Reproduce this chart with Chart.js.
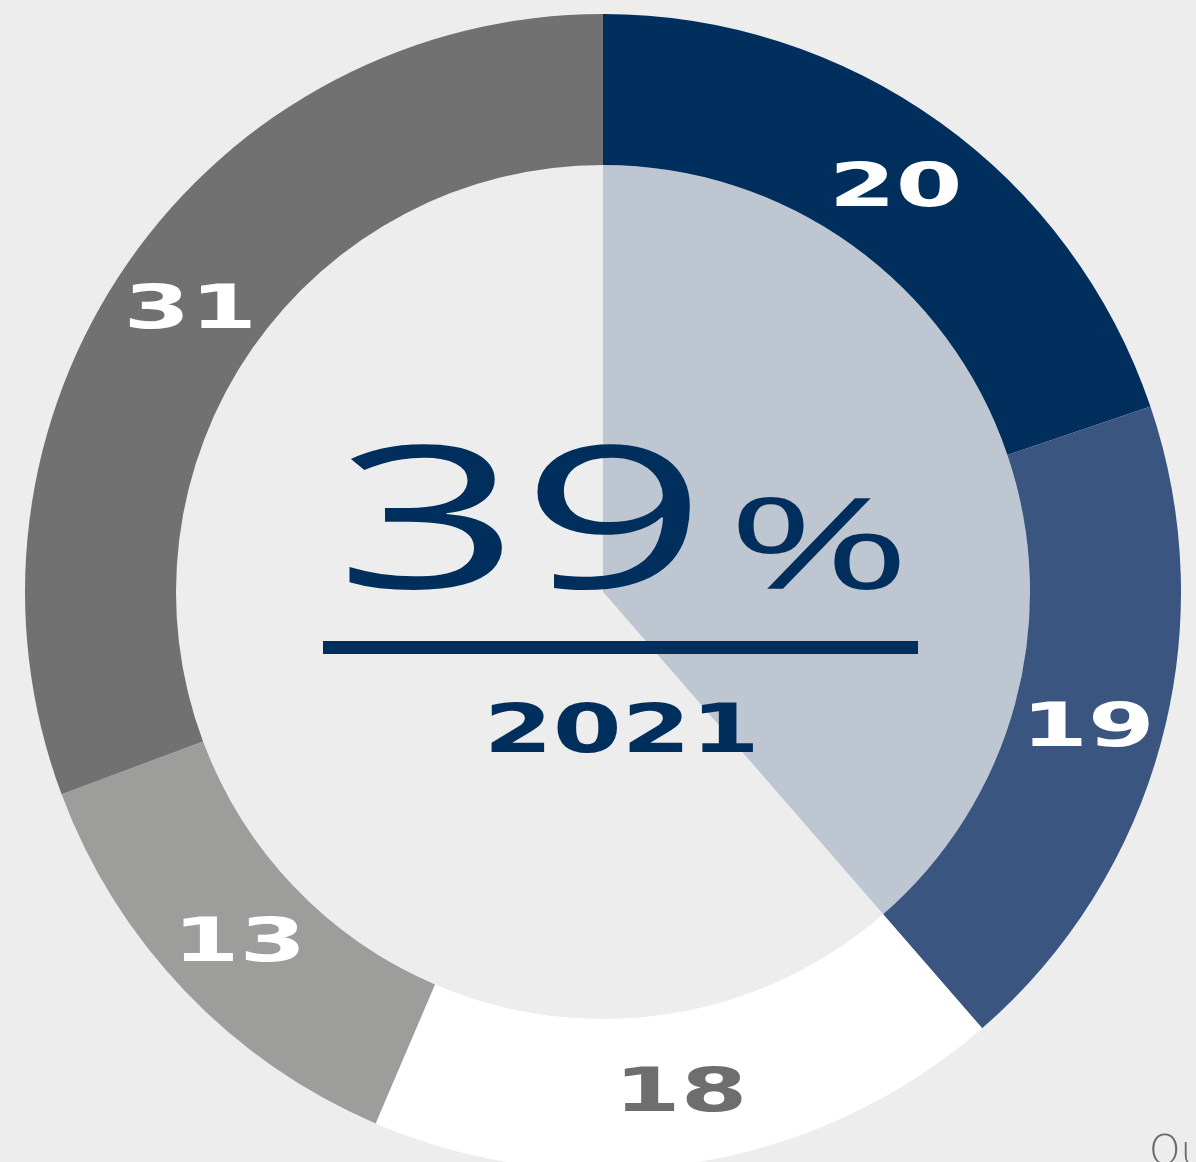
<!DOCTYPE html>
<html>
<head>
<meta charset="utf-8">
<script src="https://cdn.jsdelivr.net/npm/chart.js@4/dist/chart.umd.min.js"></script>
<style>
  html, body { margin: 0; padding: 0; background: #ededed; width: 1196px; height: 1162px; overflow: hidden; position: relative; }
  #c { position: absolute; left: 0; top: 0; }
  #src { position: absolute; left: 1149px; top: 1127px; font-family: "DejaVu Sans"; font-weight: 200; font-size: 40px; color: #6a6a6a; white-space: nowrap; }
</style>
</head>
<body>
<canvas id="c" width="1196" height="1184"></canvas>
<div id="src">Quelle</div>
<script>
// ---- data ----
const categories = ['A', 'B', 'C', 'D', 'E'];
const values = [20, 19, 18, 13, 31];
const segmentColors = ['#002f5d', '#3a5580', '#ffffff', '#9d9d9c', '#717171'];
const labelColors = ['#ffffff', '#ffffff', '#6e6e6e', '#ffffff', '#ffffff'];
const highlightCount = 2;           // first two segments form the headline share
const headlineValue = '39';
const headlineUnit = '%';
const yearLabel = '2021';

const total = values.reduce((a, b) => a + b, 0);
const highlighted = values.slice(0, highlightCount).reduce((a, b) => a + b, 0);
const innerValues = [highlighted, total - highlighted];

const NAVY = '#002f5d';

function fitText(ctx, text, fontFn, x0, x1, yTop, yBottom, color) {
  ctx.save();
  ctx.font = fontFn(100);
  let m = ctx.measureText(text);
  const h = m.actualBoundingBoxAscent + m.actualBoundingBoxDescent;
  const size = 100 * (yBottom - yTop) / h;
  ctx.font = fontFn(size);
  m = ctx.measureText(text);
  const w = m.actualBoundingBoxLeft + m.actualBoundingBoxRight;
  const sx = (x1 - x0) / w;
  ctx.translate(x0, yBottom);
  ctx.scale(sx, 1);
  ctx.textAlign = 'left';
  ctx.textBaseline = 'alphabetic';
  ctx.fillStyle = color;
  ctx.fillText(text, m.actualBoundingBoxLeft, -m.actualBoundingBoxDescent);
  ctx.restore();
}

const boldFont = s => `bold ${s}px "DejaVu Sans"`;
const lightFont = s => `400 ${s}px "Open Sans", "DejaVu Sans"`;

const overlayPlugin = {
  id: 'overlay',
  afterDatasetsDraw(chart) {
    const ctx = chart.ctx;
    // segment labels
    const meta = chart.getDatasetMeta(0);
    ctx.save();
    ctx.font = boldFont(100);
    let m = ctx.measureText('20');
    const capH = m.actualBoundingBoxAscent;
    const size = 100 * 46 / capH;
    ctx.font = boldFont(size);
    m = ctx.measureText('20');
    const sx = 123 / (m.actualBoundingBoxLeft + m.actualBoundingBoxRight);
    const asc = m.actualBoundingBoxAscent;
    meta.data.forEach((arc, i) => {
      const p = arc.tooltipPosition();
      ctx.save();
      ctx.translate(p.x, p.y);
      ctx.scale(sx, 1);
      ctx.textAlign = 'center';
      ctx.textBaseline = 'alphabetic';
      ctx.fillStyle = labelColors[i];
      ctx.fillText(String(values[i]), 0, asc / 2);
      ctx.restore();
    });
    ctx.restore();

    // center block
    fitText(ctx, headlineValue, lightFont, 348, 690, 443, 590, NAVY);
    fitText(ctx, headlineUnit, lightFont, 738, 900, 497, 590, NAVY);
    ctx.save();
    ctx.fillStyle = NAVY;
    ctx.fillRect(323, 641, 595, 13);
    ctx.restore();
    fitText(ctx, yearLabel, boldFont, 491, 753, 701, 753, NAVY);
  }
};

new Chart(document.getElementById('c'), {
  type: 'doughnut',
  data: {
    labels: categories,
    datasets: [
      {
        data: values,
        backgroundColor: segmentColors,
        borderWidth: 0,
        weight: 151
      },
      {
        data: innerValues,
        backgroundColor: ['#bec6d1', '#ededed'],
        borderWidth: 0,
        weight: 427
      }
    ]
  },
  options: {
    responsive: false,
    animation: false,
    cutout: 0,
    layout: { padding: { left: 25, right: 15, top: 14, bottom: 14 } },
    plugins: {
      legend: { display: false },
      tooltip: { enabled: false }
    },
    events: []
  },
  plugins: [overlayPlugin]
});
</script>
</body>
</html>
